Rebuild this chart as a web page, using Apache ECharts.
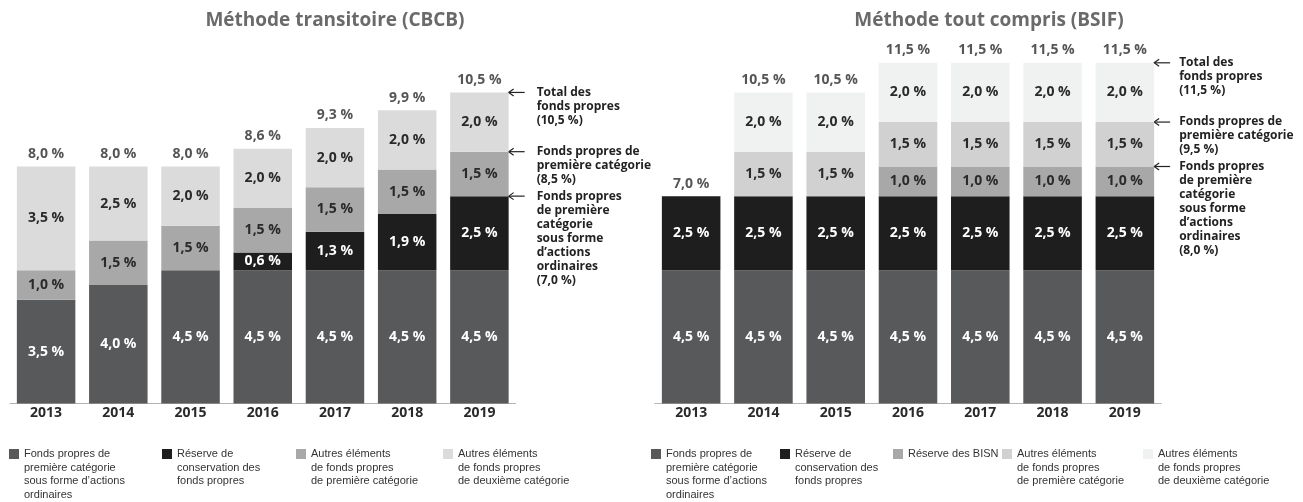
<!DOCTYPE html>
<html><head><meta charset="utf-8">
<script src="https://cdn.jsdelivr.net/npm/echarts@6/dist/echarts.min.js"></script>
<style>html,body{margin:0;padding:0;background:#fff}#c{width:1303px;height:502px}</style>
</head><body><div id="c"></div>
<script>
// ---------- data ----------
const years = ['2013', '2014', '2015', '2016', '2017', '2018', '2019'];

// Méthode transitoire (CBCB)
const cbcbCET1 = [3.5, 4.0, 4.5, 4.5, 4.5, 4.5, 4.5];
const cbcbConservation = [null, null, null, 0.6, 1.3, 1.9, 2.5];
const cbcbOtherTier1 = [1.0, 1.5, 1.5, 1.5, 1.5, 1.5, 1.5];
const cbcbTier2 = [3.5, 2.5, 2.0, 2.0, 2.0, 2.0, 2.0];
const cbcbTotal = [8.0, 8.0, 8.0, 8.6, 9.3, 9.9, 10.5];

// Méthode tout compris (BSIF)
const bsifCET1 = [4.5, 4.5, 4.5, 4.5, 4.5, 4.5, 4.5];
const bsifConservation = [2.5, 2.5, 2.5, 2.5, 2.5, 2.5, 2.5];
const bsifDSIB = [null, null, null, 1.0, 1.0, 1.0, 1.0];
const bsifOtherTier1 = [null, 1.5, 1.5, 1.5, 1.5, 1.5, 1.5];
const bsifTier2 = [null, 2.0, 2.0, 2.0, 2.0, 2.0, 2.0];
const bsifTotal = [7.0, 10.5, 10.5, 11.5, 11.5, 11.5, 11.5];

const titles = ['Méthode transitoire (CBCB)', 'Méthode tout compris (BSIF)'];

const cbcbNotes = [
  { value: 10.5, text: 'Total des\nfonds propres\n(10,5 %)' },
  { value: 8.5, text: 'Fonds propres de\npremière catégorie\n(8,5 %)' },
  { value: 7.0, text: 'Fonds propres\nde première\ncatégorie\nsous forme\nd\u2019actions\nordinaires\n(7,0 %)' }
];
const bsifNotes = [
  { value: 11.5, text: 'Total des\nfonds propres\n(11,5 %)' },
  { value: 9.5, text: 'Fonds propres de\npremière catégorie\n(9,5 %)' },
  { value: 8.0, text: 'Fonds propres\nde première\ncatégorie\nsous forme\nd\u2019actions\nordinaires\n(8,0 %)' }
];

const nameCET1 = 'Fonds propres de\npremière catégorie\nsous forme d\u2019actions\nordinaires';
const nameConservation = 'Réserve de\nconservation des\nfonds propres';
const nameDSIB = 'Réserve des BISN';
const nameOtherT1 = 'Autres éléments\nde fonds propres\nde première catégorie';
const nameT2 = 'Autres éléments\nde fonds propres\nde deuxième catégorie';

// ---------- styles ----------
const C_CET1 = '#58595a', C_CONS = '#1f1e1e', C_MID = '#a8a8a8', C_LIGHT = '#dcdbdb',
      C_LIGHT2 = '#d1d1d1', C_PALE = '#f0f1f1';
const FONT = '"Open Sans", "Noto Sans", sans-serif';
const fmt = v => v.toFixed(1).replace('.', ',') + ' %';

function barSeries(name, data, color, labelColor, axis, stack) {
  return {
    type: 'bar', name, data, stack, xAxisIndex: axis, yAxisIndex: axis,
    barCategoryGap: '19%',
    itemStyle: { color },
    label: {
      show: true, position: 'inside', color: labelColor,
      fontFamily: FONT, fontWeight: 'bold', fontSize: 14,
      formatter: p => (p.value == null ? '' : fmt(p.value))
    },
    emphasis: { disabled: true }
  };
}
function totalSeries(data, axis) {
  return {
    type: 'scatter', data, xAxisIndex: axis, yAxisIndex: axis,
    symbolSize: 1, itemStyle: { color: 'rgba(0,0,0,0)' }, silent: true,
    label: {
      show: true, position: 'top', distance: 5, color: '#2a2a2a',
      fontFamily: FONT, fontWeight: 'bold', fontSize: 14,
      formatter: p => fmt(p.value[1] !== undefined ? p.value[1] : p.value)
    }
  };
}
function xAxis(idx) {
  return {
    type: 'category', data: years, gridIndex: idx,
    axisLine: { lineStyle: { color: '#b4b4b4', width: 1.2 } },
    axisTick: { show: false },
    axisLabel: { color: '#2a2a2a', fontFamily: FONT, fontWeight: 'bold', fontSize: 14, margin: 3 }
  };
}
function yAxis(idx) {
  return { type: 'value', gridIndex: idx, min: 0, max: 12, show: false, splitLine: { show: false } };
}

const chart = echarts.init(document.getElementById('c'), null, { renderer: 'canvas' });
chart.setOption({
  animation: false,
  backgroundColor: '#fff',
  title: [
    { text: titles[0], left: 330, top: 6, textAlign: 'center',
      textStyle: { fontFamily: FONT, fontWeight: 'bold', fontSize: 19, color: '#6a6a6a' } },
    { text: titles[1], left: 984, top: 6, textAlign: 'center',
      textStyle: { fontFamily: FONT, fontWeight: 'bold', fontSize: 19, color: '#6a6a6a' } }
  ],
  grid: [
    { left: 10, top: 48, width: 505.5, height: 355.5 },
    { left: 655, top: 48, width: 506, height: 355.5 }
  ],
  xAxis: [xAxis(0), xAxis(1)],
  yAxis: [yAxis(0), yAxis(1)],
  series: [
    barSeries(nameCET1, cbcbCET1, C_CET1, '#fff', 0, 'a'),
    barSeries(nameConservation, cbcbConservation, C_CONS, '#fff', 0, 'a'),
    barSeries(nameOtherT1, cbcbOtherTier1, C_MID, '#2a2a2a', 0, 'a'),
    barSeries(nameT2, cbcbTier2, C_LIGHT, '#2a2a2a', 0, 'a'),
    totalSeries(cbcbTotal, 0),
    barSeries(nameCET1, bsifCET1, C_CET1, '#fff', 1, 'b'),
    barSeries(nameConservation, bsifConservation, C_CONS, '#fff', 1, 'b'),
    barSeries(nameDSIB, bsifDSIB, C_MID, '#2a2a2a', 1, 'b'),
    barSeries(nameOtherT1, bsifOtherTier1, C_LIGHT2, '#2a2a2a', 1, 'b'),
    barSeries(nameT2, bsifTier2, C_PALE, '#2a2a2a', 1, 'b'),
    totalSeries(bsifTotal, 1)
  ]
});

// ---------- annotations & legends ----------
const graphics = [];
function notes(list, axis, textGap) {
  const finder = { xAxisIndex: axis, yAxisIndex: axis };
  const p0 = chart.convertToPixel(finder, [0, 0]);
  const p1 = chart.convertToPixel(finder, [1, 0]);
  const band = p1[0] - p0[0];
  const last = chart.convertToPixel(finder, [years.length - 1, 0]);
  const barRight = last[0] + band * 0.81 / 2;
  list.forEach(n => {
    const y = chart.convertToPixel(finder, [years.length - 1, n.value])[1];
    const x0 = barRight;
    graphics.push({ type: 'polyline', silent: true,
      shape: { points: [[x0 + 16, y], [x0, y]] }, style: { stroke: '#222', lineWidth: 1.2, fill: null } });
    graphics.push({ type: 'polyline', silent: true,
      shape: { points: [[x0 + 5, y - 3.5], [x0, y], [x0 + 5, y + 3.5]] }, style: { stroke: '#222', lineWidth: 1.2, fill: null } });
    graphics.push({ type: 'text', silent: true,
      style: { x: x0 + textGap, y: y - 7, text: n.text, fill: '#222',
        font: 'bold 12px ' + FONT, lineHeight: 14, verticalAlign: 'top' } });
  });
}
notes(cbcbNotes, 0, 28);
notes(bsifNotes, 1, 25);

const LEG_FONT = '11px "Liberation Sans", Arial, sans-serif';
function legend(items) {
  items.forEach(it => {
    graphics.push({ type: 'rect', silent: true,
      shape: { x: it.x, y: 449, width: 10, height: 10 }, style: { fill: it.color } });
    graphics.push({ type: 'text', silent: true,
      style: { x: it.x + 15, y: 447.5, text: it.name, fill: '#333', font: LEG_FONT, lineHeight: 13.5, verticalAlign: 'top' } });
  });
}
legend([
  { x: 9, name: nameCET1, color: C_CET1 },
  { x: 162, name: nameConservation, color: C_CONS },
  { x: 296, name: nameOtherT1, color: C_MID },
  { x: 443, name: nameT2, color: C_LIGHT }
]);
legend([
  { x: 651, name: nameCET1, color: C_CET1 },
  { x: 780, name: nameConservation, color: C_CONS },
  { x: 893, name: nameDSIB, color: C_MID },
  { x: 1002, name: nameOtherT1, color: C_LIGHT2 },
  { x: 1143, name: nameT2, color: C_PALE }
]);
chart.setOption({ graphic: graphics });
</script>
</body></html>
